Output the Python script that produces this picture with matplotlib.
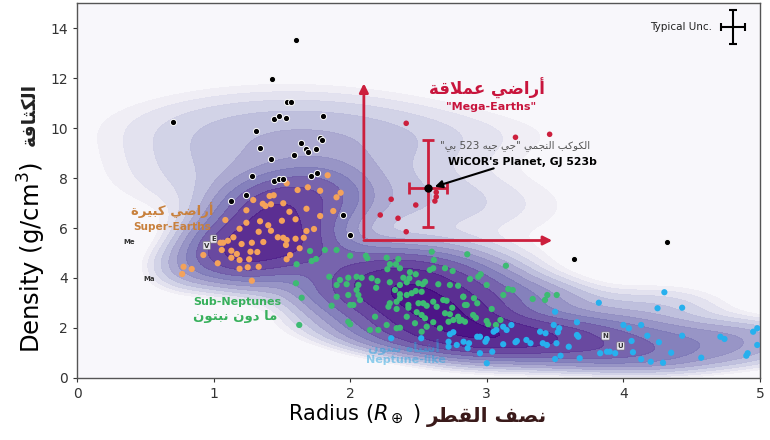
import numpy as np
import matplotlib
matplotlib.use("Agg")
import matplotlib.pyplot as plt

# ---------------- data (radius in R_earth, density in g/cm3) ----------------
black_r = [1.60, 1.43, 1.54, 1.57, 0.70, 1.44, 1.48, 1.53, 1.80, 1.31, 1.34, 1.64, 1.78, 1.79, 1.68, 1.69,
           1.75, 1.59, 1.42, 1.28, 1.44, 1.48, 1.51, 1.715, 1.755, 1.24, 1.13, 1.95, 2.00, 3.64, 4.32]
black_d = [13.53, 11.97, 11.03, 11.03, 10.23, 10.35, 10.47, 10.40, 10.49, 9.90, 9.20, 9.40, 9.59, 9.53, 9.15, 9.04,
           9.17, 8.92, 8.75, 8.08, 7.89, 7.95, 7.95, 8.10, 8.21, 7.31, 7.09, 6.51, 5.72, 4.77, 5.43]

orange_r = [1.535, 1.835, 1.615, 1.69, 1.78, 1.93, 1.90, 1.44, 1.41, 1.36, 1.38, 1.42, 1.51, 1.29, 1.24, 1.555,
            1.68, 1.876, 1.086, 1.24, 1.34, 1.40, 1.50, 1.60, 1.78, 1.19, 1.33, 1.42, 1.68, 1.735, 1.105, 1.145,
            1.205, 1.28, 1.364, 1.47, 1.51, 1.535, 1.53, 1.60, 1.66, 1.06, 1.13, 1.17, 1.27, 1.32, 1.63, 1.56,
            1.535, 0.925, 1.13, 1.19, 1.26, 1.25, 1.33, 1.19, 1.03, 0.78, 0.84, 0.77, 1.28, 1.07, 1.05]
orange_d = [7.79, 8.11, 7.52, 7.63, 7.49, 7.41, 7.23, 7.31, 7.28, 6.97, 6.88, 6.95, 6.99, 7.12, 6.71, 6.65,
            6.77, 6.68, 6.32, 6.21, 6.27, 6.11, 6.29, 6.35, 6.48, 5.97, 5.85, 5.89, 5.88, 5.96, 5.49, 5.63,
            5.36, 5.41, 5.44, 5.63, 5.61, 5.52, 5.32, 5.57, 5.61, 5.12, 5.09, 4.96, 5.05, 5.04, 5.19, 4.92,
            4.75, 4.92, 4.81, 4.72, 4.75, 4.43, 4.45, 4.37, 4.59, 4.45, 4.36, 4.16, 3.89, 5.41, 5.41]

green_r = [1.706, 1.815, 1.90, 2.00, 2.115, 2.125, 2.267, 2.352, 2.597, 2.613, 1.608, 1.718, 1.75, 2.291, 2.335,
           2.272, 2.364, 2.437, 2.48, 2.584, 2.608, 2.694, 2.75, 1.847, 1.925, 1.986, 2.047, 2.084, 1.901, 1.974,
           2.06, 2.047, 2.157, 2.20, 2.19, 2.29, 2.364, 2.389, 2.433, 2.414, 2.50, 2.531, 2.548, 2.645, 2.73,
           2.79, 1.603, 1.901, 1.986, 2.06, 2.072, 2.00, 2.023, 1.864, 1.645, 2.328, 2.364, 2.414, 2.45, 2.48,
           2.523, 2.364, 2.34, 2.29, 2.426, 2.50, 2.535, 2.56, 2.608, 2.633, 2.681, 2.706, 2.747, 2.828, 2.84,
           2.28, 2.34, 2.426, 2.487, 2.523, 2.548, 2.694, 2.73, 2.79, 2.80, 2.84, 2.414, 2.474, 2.56, 2.608,
           2.657, 2.72, 2.755, 2.182, 2.267, 2.34, 2.364, 1.986, 2.00, 2.145, 2.206, 1.627, 2.523,
           2.857, 3.14, 2.877, 2.938, 2.955, 2.999, 3.121, 3.157, 3.19, 3.336, 3.426, 3.443, 3.512, 2.828,
           2.906, 2.93, 2.853, 3.036, 2.90, 2.92, 2.999, 3.01, 3.067, 3.10, 2.816]
green_d = [5.08, 5.12, 5.12, 4.89, 4.89, 4.79, 4.81, 4.76, 5.05, 4.72, 4.55, 4.68, 4.76, 4.55, 4.55,
           4.35, 4.39, 4.23, 4.15, 4.32, 4.39, 4.39, 4.28, 4.05, 3.92, 4.01, 4.05, 4.01, 3.72, 3.75,
           3.72, 3.52, 3.99, 3.88, 3.61, 3.83, 3.72, 4.01, 3.99, 3.83, 3.79, 3.75, 3.85, 3.75, 3.72,
           3.69, 3.79, 3.25, 3.32, 3.32, 3.12, 2.92, 2.92, 2.89, 3.21, 3.52, 3.35, 3.32, 3.39, 3.48,
           3.45, 3.19, 3.05, 2.99, 2.92, 2.99, 2.99, 2.89, 3.05, 2.85, 3.12, 3.09, 2.81, 3.25, 2.92,
           2.85, 2.76, 2.81, 2.63, 2.52, 2.39, 2.59, 2.55, 2.45, 2.28, 2.25, 2.45, 2.19, 2.05, 2.23,
           1.99, 2.25, 2.32, 2.45, 2.12, 1.99, 2.01, 2.25, 2.15, 1.92, 1.92, 2.12, 1.85,
           4.95, 4.49, 3.96, 4.05, 4.15, 3.72, 3.32, 3.56, 3.52, 3.16, 3.12, 3.32, 3.32, 3.25,
           3.19, 2.99, 2.92, 2.76, 2.52, 2.41, 2.28, 2.15, 2.12, 2.32, 2.32]

blue_r = [3.82, 3.50, 3.66, 3.49, 3.53, 3.52, 3.18, 3.145, 3.07, 3.05, 2.93, 2.95, 3.00, 2.99, 2.87, 2.86,
          3.12, 3.21, 3.22, 3.29, 3.32, 3.39, 3.43, 3.41, 3.44, 3.51, 3.60, 3.66, 3.67, 3.04, 2.95, 3.00,
          3.50, 3.54, 3.68, 3.83, 3.88, 4.30, 4.25, 4.43, 4.00, 4.04, 4.13, 4.175, 4.06, 4.26, 4.43, 4.71,
          4.74, 4.95, 4.98, 4.98, 3.90, 3.94, 4.07, 4.35, 4.13, 4.20, 4.29, 4.57, 4.90, 4.91, 2.72, 2.78,
          3.12, 2.30, 2.52, 2.73, 2.755, 2.72, 2.83]
blue_d = [3.01, 2.65, 2.23, 2.12, 1.99, 1.83, 2.12, 1.92, 1.92, 1.85, 1.65, 1.65, 1.56, 1.45, 1.39, 1.19,
          1.35, 1.43, 1.48, 1.52, 1.39, 1.85, 1.79, 1.39, 1.32, 1.39, 1.25, 1.72, 1.65, 1.05, 0.99, 0.59,
          0.76, 0.89, 0.79, 0.99, 1.05, 3.43, 2.79, 2.81, 2.12, 1.99, 2.12, 1.69, 1.48, 1.43, 1.69, 1.65,
          1.56, 1.85, 1.99, 1.32, 1.05, 0.99, 1.03, 1.01, 0.75, 0.65, 0.61, 0.81, 0.89, 0.99, 1.25, 1.32,
          2.05, 1.59, 1.59, 1.75, 1.83, 1.45, 1.45]

red_r = [2.41, 3.21, 3.46, 2.63, 2.63, 2.62, 2.30, 2.48, 2.35, 2.41, 2.22]
red_d = [10.19, 9.63, 9.75, 7.43, 7.25, 7.08, 7.15, 6.92, 6.39, 5.85, 6.52]

# WiCOR's planet (GJ 523b) with asymmetric errors
gj_r, gj_d = 2.57, 7.61
gj_rerr = 0.14
gj_derr = [[1.56], [1.92]]

# solar system planets
ss_names = ["Me", "Ma", "V", "E", "N", "U"]
ss_r = [0.38, 0.53, 0.95, 1.00, 3.87, 3.98]
ss_d = [5.44, 3.96, 5.30, 5.56, 1.68, 1.28]

x_ticks = [0, 1, 2, 3, 4, 5]
y_ticks = [0, 2, 4, 6, 8, 10, 12, 14]

# ---------------- tiny arabic shaper (matplotlib has no shaping) ----------------
AR = {
    'ا': ('\uFE8D', '\uFE8E', None, None), 'أ': ('\uFE83', '\uFE84', None, None),
    'ب': ('\uFE8F', '\uFE90', '\uFE91', '\uFE92'), 'ة': ('\uFE93', '\uFE94', None, None),
    'ت': ('\uFE95', '\uFE96', '\uFE97', '\uFE98'), 'ث': ('\uFE99', '\uFE9A', '\uFE9B', '\uFE9C'),
    'ج': ('\uFE9D', '\uFE9E', '\uFE9F', '\uFEA0'), 'د': ('\uFEA9', '\uFEAA', None, None),
    'ر': ('\uFEAD', '\uFEAE', None, None), 'ش': ('\uFEB5', '\uFEB6', '\uFEB7', '\uFEB8'),
    'ص': ('\uFEB9', '\uFEBA', '\uFEBB', '\uFEBC'),
    'ض': ('\uFEBD', '\uFEBE', '\uFEBF', '\uFEC0'), 'ط': ('\uFEC1', '\uFEC2', '\uFEC3', '\uFEC4'),
    'ع': ('\uFEC9', '\uFECA', '\uFECB', '\uFECC'), 'ف': ('\uFED1', '\uFED2', '\uFED3', '\uFED4'),
    'ق': ('\uFED5', '\uFED6', '\uFED7', '\uFED8'), 'ك': ('\uFED9', '\uFEDA', '\uFEDB', '\uFEDC'),
    'ل': ('\uFEDD', '\uFEDE', '\uFEDF', '\uFEE0'), 'م': ('\uFEE1', '\uFEE2', '\uFEE3', '\uFEE4'),
    'ن': ('\uFEE5', '\uFEE6', '\uFEE7', '\uFEE8'), 'ه': ('\uFEE9', '\uFEEA', '\uFEEB', '\uFEEC'),
    'و': ('\uFEED', '\uFEEE', None, None), 'ي': ('\uFEF1', '\uFEF2', '\uFEF3', '\uFEF4'),
    'LA': ('\uFEFB', '\uFEFC', None, None),
}


def ar(text):
    toks = []
    i = 0
    while i < len(text):
        if text[i] == 'ل' and i + 1 < len(text) and text[i + 1] == 'ا':
            toks.append('LA')
            i += 2
        else:
            toks.append(text[i])
            i += 1
    out = []
    for k, t in enumerate(toks):
        if t not in AR:
            out.append(t)
            continue
        prev = toks[k - 1] if k > 0 else None
        nxt = toks[k + 1] if k + 1 < len(toks) else None
        pj = prev in AR and AR[prev][2] is not None
        nj = nxt in AR and AR[t][2] is not None
        f = AR[t]
        if pj and nj:
            out.append(f[3])
        elif pj:
            out.append(f[1])
        elif nj:
            out.append(f[2])
        else:
            out.append(f[0])
    vis = ''.join(out)[::-1]
    # put digit runs back in left-to-right order
    res, run = '', ''
    for ch in vis:
        if ch.isdigit():
            run += ch
        else:
            res += run[::-1] + ch
            run = ''
    return res + run[::-1]


plt.rcParams['font.family'] = ['DejaVu Sans']

# ---------------- figure ----------------
fig = plt.figure(figsize=(7.7, 4.4), dpi=100)
ax = fig.add_axes([0.1, 0.141, 0.887, 0.852])
ax.set_facecolor('#f8f7fb')

# KDE background, each group smoothed with its own kernel width
groups = [
    (black_r + red_r, black_d + red_d, 2.1, 0.88, 0.85),
    (orange_r, orange_d, 1.3, 0.22, 0.65),
    (green_r, green_d, 1.0, 0.26, 0.55),
    (blue_r, blue_d, 1.25, 0.36, 0.45),
]
gx = np.linspace(0, 5, 300)
gy = np.linspace(0, 15, 300)
Z = np.zeros((gy.size, gx.size))
for rr, dd, w, hx, hy in groups:
    rr = np.asarray(rr)[:, None]
    dd = np.asarray(dd)[:, None]
    Ex = np.exp(-0.5 * ((gx[None, :] - rr) / hx) ** 2) / hx
    Ey = np.exp(-0.5 * ((gy[None, :] - dd) / hy) ** 2) / hy
    Z += w * (Ey.T @ Ex)

# log-spaced density levels
levels = list(Z.max() * np.geomspace(0.05, 0.92, 11)) + [Z.max() * 1.01]
cols = plt.cm.Purples(np.linspace(0.12, 0.97, len(levels) - 1))
ax.contourf(gx, gy, Z, levels=levels, colors=cols, alpha=0.95, zorder=1)

# faded neptune-like labels sit under the points
ax.text(2.39, 1.24, ar('أشباه نبتون'), color='#2aa8e0', fontsize=9, fontweight='bold',
        ha='center', va='center', alpha=0.5, zorder=2)
ax.text(2.41, 0.72, 'Neptune-like', color='#2aa8e0', fontsize=8, fontweight='bold',
        ha='center', va='center', alpha=0.5, zorder=2)

ms = 20
ax.scatter(green_r, green_d, s=ms, color='#3dbb73', edgecolor='none', zorder=3)
ax.scatter(blue_r, blue_d, s=ms, color='#27b0ee', edgecolor='none', zorder=3)
ax.scatter(orange_r, orange_d, s=ms, color='#f4a25a', edgecolor='none', zorder=3)
ax.scatter(black_r, black_d, s=ms, color='black', edgecolor='white', linewidth=0.7, zorder=4)
ax.scatter(red_r, red_d, s=ms - 4, color='#cc1f3d', edgecolor='none', zorder=4)

# red arrows marking the mega-earth region
red = '#cc1f3d'
ax.annotate('', xy=(2.1, 11.9), xytext=(2.1, 5.5),
            arrowprops=dict(arrowstyle='-|>', color=red, lw=2, mutation_scale=13), zorder=5)
ax.annotate('', xy=(3.5, 5.5), xytext=(2.08, 5.5),
            arrowprops=dict(arrowstyle='-|>', color=red, lw=2, mutation_scale=13), zorder=5)

ax.errorbar([gj_r], [gj_d], xerr=gj_rerr, yerr=gj_derr, fmt='o', color='black', ms=5,
            ecolor=red, elinewidth=2, capsize=4, capthick=2, zorder=6)
ax.annotate('', xy=(2.6, 7.62), xytext=(3.07, 8.42),
            arrowprops=dict(arrowstyle='-|>', color='black', lw=1.5, mutation_scale=11), zorder=6)

# typical uncertainty
ax.errorbar([4.8], [14.04], xerr=0.088, yerr=0.68, fmt='none', ecolor='black',
            elinewidth=1.5, capsize=3, capthick=1.5, zorder=6)
ax.text(4.65, 14.04, 'Typical Unc.', fontsize=7.5, color='#222222', ha='right', va='center')

# labels
ax.text(3.0, 11.6, ar('أراضي عملاقة'), color='#c8143c', fontsize=12, fontweight='bold',
        ha='center', va='center', zorder=6)
ax.text(3.03, 10.84, '"Mega-Earths"', color='#c8143c', fontsize=8, fontweight='bold',
        ha='center', va='center', zorder=6)
ax.text(3.21, 9.3, ar('الكوكب النجمي "جي جيه 523 بي"'), color='#555555', fontsize=7.5,
        ha='center', va='center', zorder=6)
ax.text(3.26, 8.64, "WiCOR's Planet, GJ 523b", color='black', fontsize=7.8, fontweight='bold',
        ha='center', va='center', zorder=6)

ax.text(0.695, 6.72, ar('أراضي كبيرة'), color='#c8803c', fontsize=9.5, fontweight='bold',
        ha='center', va='center', zorder=2.5)
ax.text(0.70, 6.04, 'Super-Earths', color='#c8803c', fontsize=7.6, fontweight='bold',
        ha='center', va='center', zorder=2.5)
ax.text(1.17, 3.04, 'Sub-Neptunes', color='#38b05c', fontsize=8, fontweight='bold',
        ha='center', va='center', zorder=6)
ax.text(1.16, 2.44, ar('ما دون نبتون'), color='#38b05c', fontsize=9.5, fontweight='bold',
        ha='center', va='center', zorder=6)

for name, r, d in zip(ss_names, ss_r, ss_d):
    box = None
    if name in ('V', 'E', 'N', 'U'):
        box = dict(boxstyle='round,pad=0.15', fc='white', ec='#777777', lw=0.5, alpha=0.85)
    ax.text(r, d, name, fontsize=5, fontweight='bold', color='#333333', ha='center',
            va='center', bbox=box, zorder=6)

ax.set_xlim(0, 5)
ax.set_ylim(0, 15)
ax.set_xticks(x_ticks)
ax.set_yticks(y_ticks)
ax.tick_params(labelsize=10, colors='#333333', length=3)
for s in ax.spines.values():
    s.set_color('#555555')
    s.set_linewidth(1.0)

# axis titles (english + arabic)
fig.text(0.042, 0.415, 'Density (g/cm$^3$)', rotation=90, fontsize=17.5, ha='center', va='center')
fig.text(0.038, 0.74, ar('الكثافة'), rotation=90, fontsize=13.5, fontweight='bold',
         ha='center', va='center', color='#222222')
fig.text(0.46, 0.057, r'Radius ($R_\oplus$ )', fontsize=15, ha='center', va='center')
fig.text(0.632, 0.053, ar('نصف القطر'), fontsize=14.5, fontweight='bold', ha='center',
         va='center', color='#3a1a1a')

fig.savefig('out.png', dpi=100)
